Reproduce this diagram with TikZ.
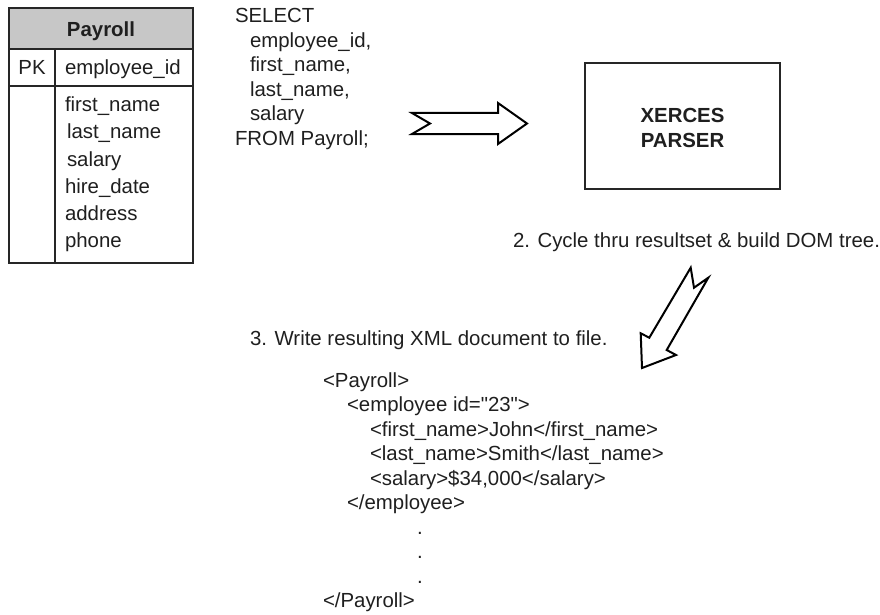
\documentclass[tikz,border=0pt]{standalone}
\usepackage{fontspec}
\setmainfont{Liberation Sans}
\setmonofont{Liberation Sans}
\newcommand{\sq}{\texttt{"}}
\begin{document}
\begin{tikzpicture}[x=1pt,y=-1pt,
  every node/.style={inner sep=0pt, outer sep=0pt, font=\fontsize{20.4}{24}\selectfont, text=black!88},
  txt/.style={anchor=base west},
  ctxt/.style={anchor=base},
  blockarrow/.style={draw=black, line width=2pt, line join=miter, fill=white},
  frame/.style={draw=black!85, line width=2pt},
  rule/.style={draw=black!85, line width=1.5pt}]
\useasboundingbox (0,0) rectangle (880,615);

% ---- Payroll table ----
\fill[black!22] (9,8) rectangle (193,49);
\draw[rule] (9,49) -- (193,49);
\draw[rule] (9,86) -- (193,86);
\draw[rule] (55,49) -- (55,263);
\draw[frame] (9,8) rectangle (193,263);
\node[ctxt] (tname) at (101,37) {\bfseries Payroll};
\node[ctxt] (pk) at (32,75) {PK};
\node[txt] (fid) at (65,75) {employee\_id};
\node[txt] (ffirst) at (65,112) {first\_name};
\node[txt] (flast) at (67,139) {last\_name};
\node[txt] (fsal) at (67,166) {salary};
\node[txt] (fhire) at (65,193) {hire\_date};
\node[txt] (faddr) at (65,220) {address};
\node[txt] (fphone) at (65,247) {phone};

% ---- SQL ----
\node[txt] (sql1) at (235,23) {SELECT};
\node[txt] (sql2) at (250,47.5) {employee\_id,};
\node[txt] (sql3) at (250,72) {first\_name,};
\node[txt] (sql4) at (250,96.5) {last\_name,};
\node[txt] (sql5) at (250,121) {salary};
\node[txt] (sql6) at (235,145.5) {FROM Payroll;};

% ---- right block arrow ----
\draw[blockarrow] (412,113) -- (498,113) -- (498,103) -- (527,123.5)
  -- (498,144) -- (498,134) -- (412,134) -- (430,123.5) -- cycle;

% ---- Xerces parser ----
\draw[frame] (585,63) rectangle (780,189);
\node[ctxt] (xp1) at (682.5,123) {\bfseries XERCES};
\node[ctxt] (xp2) at (682.5,147) {\bfseries PARSER};

% ---- step 2 ----
\node[txt] (step2) at (513,247) {2. Cycle thru resultset \& build DOM tree.};

% ---- diagonal block arrow ----
\draw[blockarrow] (690.7,267.7) -- (694,287.7) -- (708.3,277.7) -- (666.7,350)
  -- (676,355) -- (642,368) -- (640.7,333.3) -- (649.3,337.7) -- cycle;

% ---- step 3 ----
\node[txt] (step3) at (250,345) {3. Write resulting XML document to file.};

% ---- XML ----
\node[txt] (x1) at (323,387) {<Payroll>};
\node[txt] (x2) at (347,411.5) {<employee id=\sq 23\sq >};
\node[txt] (x3) at (370,436) {<first\_name>John</first\_name>};
\node[txt] (x4) at (370,460.5) {<last\_name>Smith</last\_name>};
\node[txt] (x5) at (370,485) {<salary>\$34,000</salary>};
\node[txt] (x6) at (347,509.5) {</employee>};
\node[txt] (d1) at (417,534) {.};
\node[txt] (d2) at (417,558.5) {.};
\node[txt] (d3) at (417,583) {.};
\node[txt] (x7) at (323,607.5) {</Payroll>};
\end{tikzpicture}
\end{document}
